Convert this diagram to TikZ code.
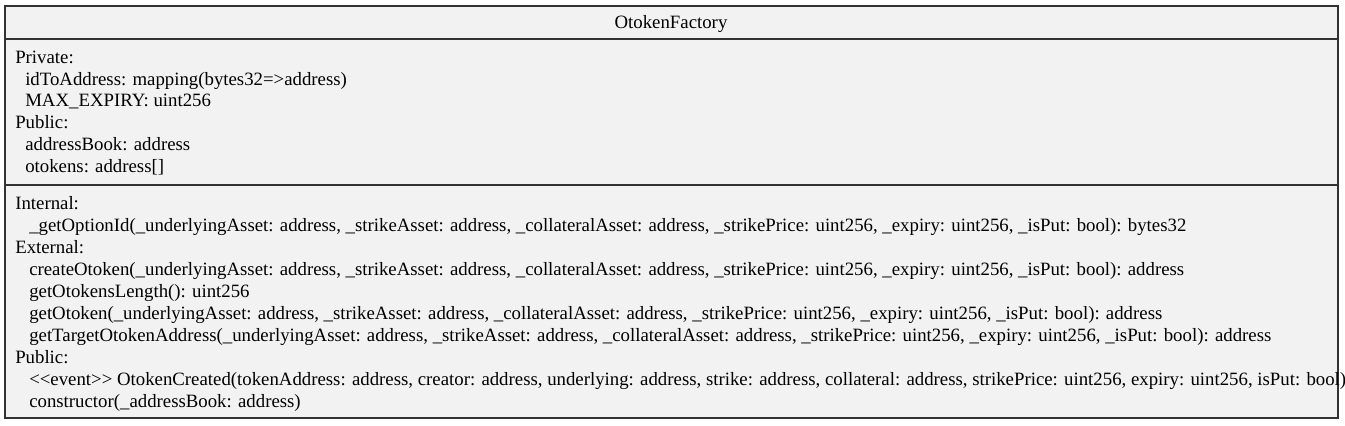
\documentclass[tikz,border=0pt]{standalone}
\usepackage{fontspec}
\setmainfont{Liberation Serif}
\definecolor{boxfill}{HTML}{F2F2F2}
\definecolor{boxline}{HTML}{333333}
\tikzset{
  txt/.style={anchor=base west, inner sep=0pt, font=\fontsize{14.1}{16}\selectfont, text=black},
  ttl/.style={anchor=base, inner sep=0pt, font=\fontsize{14.1}{16}\selectfont, text=black},
  frame/.style={draw=boxline, line width=0.9pt},
}
\begin{document}
\begin{tikzpicture}[x=0.75pt,y=-0.75pt]
\useasboundingbox (0,0) rectangle (1345,425);
% frame
\draw[frame, fill=boxfill] (5,6) rectangle (1338,418);
\draw[frame] (5,39) -- (1338,39);
\draw[frame] (5,185) -- (1338,185);
\node[ttl] (title) at (671,28) {OtokenFactory};
% attributes
\node[txt] (a0) at (15,63) {Private:};
\node[txt] (a1) at (25,85) {idToAddress: mapping(bytes32=>address)};
\node[txt] (a2) at (25,106) {MAX\_EXPIRY: uint256};
\node[txt] (a3) at (15,128) {Public:};
\node[txt] (a4) at (25,150) {addressBook: address};
\node[txt] (a5) at (25,172) {otokens: address[]};
% operations
\node[txt] (m0) at (15,209) {Internal:};
\node[txt] (m1) at (29,231) {\_getOptionId(\_underlyingAsset: address, \_strikeAsset: address, \_collateralAsset: address, \_strikePrice: uint256, \_expiry: uint256, \_isPut: bool): bytes32};
\node[txt] (m2) at (15,253) {External:};
\node[txt] (m3) at (29,275) {createOtoken(\_underlyingAsset: address, \_strikeAsset: address, \_collateralAsset: address, \_strikePrice: uint256, \_expiry: uint256, \_isPut: bool): address};
\node[txt] (m4) at (29,297) {getOtokensLength(): uint256};
\node[txt] (m5) at (29,319) {getOtoken(\_underlyingAsset: address, \_strikeAsset: address, \_collateralAsset: address, \_strikePrice: uint256, \_expiry: uint256, \_isPut: bool): address};
\node[txt] (m6) at (29,341) {getTargetOtokenAddress(\_underlyingAsset: address, \_strikeAsset: address, \_collateralAsset: address, \_strikePrice: uint256, \_expiry: uint256, \_isPut: bool): address};
\node[txt] (m7) at (15,363) {Public:};
\node[txt] (m8) at (29,385) {<{}<event>{}> OtokenCreated(tokenAddress: address, creator: address, underlying: address, strike: address, collateral: address, strikePrice: uint256, expiry: uint256, isPut: bool)};
\node[txt] (m9) at (29,407) {constructor(\_addressBook: address)};
\end{tikzpicture}
\end{document}
